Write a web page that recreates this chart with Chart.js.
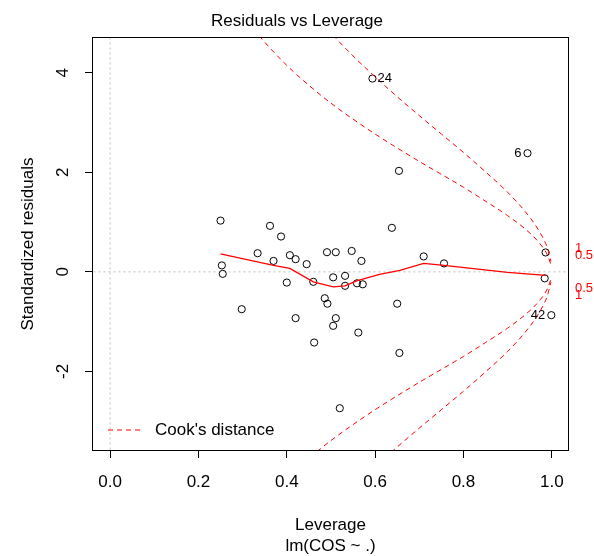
<!DOCTYPE html>
<html>
<head>
<meta charset="utf-8">
<title>Residuals vs Leverage</title>
<script src="https://cdn.jsdelivr.net/npm/chart.js@4/dist/chart.umd.min.js"></script>
<style>
  html, body { margin: 0; padding: 0; background: #fff; }
  canvas { display: block; }
</style>
</head>
<body>
<canvas id="residLeverageChart" width="594" height="556"></canvas>
<script>
// Observations: leverage (hat values) and standardized residuals
const leverage = [
    0.250, 0.253, 0.255, 0.298, 0.334, 0.362, 0.370, 0.387, 0.400, 0.407,
    0.420, 0.420, 0.445, 0.460, 0.462, 0.486, 0.491, 0.492, 0.505, 0.505,
    0.511, 0.511, 0.520, 0.532, 0.532, 0.547, 0.559, 0.562, 0.569, 0.572,
    0.594, 0.638, 0.650, 0.654, 0.655, 0.710, 0.756, 0.945, 0.986, 0.984,
    0.999
];
const stdResiduals = [
    1.03, 0.13, -0.04, -0.75, 0.375, 0.925, 0.22, 0.71, -0.215, 0.335,
    0.255, -0.93, 0.155, -0.20, -1.42, -0.53, 0.395, -0.64, -0.11, -1.085,
    0.395, -0.93, -2.74, -0.08, -0.28, 0.42, -0.23, -1.22, 0.22, -0.25,
    3.885, 0.885, -0.64, 2.03, -1.63, 0.31, 0.17, 2.385, 0.39, -0.13,
    -0.87
];

// Observation numbers printed next to the most extreme points
const idIndex = [30, 37, 40];
const idText = ['24', '6', '42'];

// Smoother through the residuals
const smoothLeverage = [0.250, 0.370, 0.407, 0.460, 0.505, 0.532, 0.558, 0.610, 0.656, 0.710, 0.756, 0.900, 0.986];
const smoothResid = [0.36, 0.13, 0.07, -0.20, -0.30, -0.28, -0.18, -0.05, 0.03, 0.17, 0.13, -0.01, -0.07];

// Cook's distance contours (0.5 and 1)
const cookHalfLeverage = [0.30, 0.34, 0.40, 0.45, 0.50, 0.55, 0.60, 0.65, 0.70, 0.75, 0.80, 0.85, 0.90, 0.94, 0.97, 0.99, 0.998];
const cookHalfUpper = [5.18, 4.72, 4.15, 3.75, 3.39, 3.07, 2.77, 2.49, 2.22, 1.96, 1.70, 1.42, 1.13, 0.86, 0.60, 0.34, 0.15];
const cookHalfLower = [-5.18, -4.72, -4.15, -3.75, -3.39, -3.07, -2.77, -2.49, -2.22, -1.96, -1.70, -1.42, -1.13, -0.86, -0.60, -0.34, -0.15];
const cookOneLeverage = [0.45, 0.50, 0.55, 0.60, 0.65, 0.70, 0.75, 0.80, 0.85, 0.90, 0.94, 0.97, 0.99, 0.998];
const cookOneUpper = [5.30, 4.80, 4.34, 3.92, 3.52, 3.14, 2.77, 2.40, 2.01, 1.60, 1.21, 0.84, 0.48, 0.21];
const cookOneLower = [-5.30, -4.80, -4.34, -3.92, -3.52, -3.14, -2.77, -2.40, -2.01, -1.60, -1.21, -0.84, -0.48, -0.21];

// Axis ticks
const xTicks = [0, 0.2, 0.4, 0.6, 0.8, 1.0];
const yTicks = [-2, 0, 2, 4];
const cookLevelTicks = [-0.48, -0.34, 0.34, 0.48];
const cookLevelLabels = ['1', '0.5', '0.5', '1'];

const FONT = "'Liberation Sans', Arial, sans-serif";
Chart.defaults.font.family = FONT;
Chart.defaults.color = '#000';

const toXY = (xs, ys) => xs.map((x, i) => ({ x: x, y: ys[i] }));

function cookLine(xs, ys) {
    return {
        data: toXY(xs, ys),
        showLine: true,
        borderColor: '#ff0000',
        borderWidth: 1,
        borderDash: [5, 4],
        pointRadius: 0,
        cubicInterpolationMode: 'monotone',
        order: 1
    };
}

// frame around the plot region
const boxPlugin = {
    id: 'plotBox',
    afterDraw(chart) {
        const { ctx, chartArea: a } = chart;
        ctx.save();
        ctx.strokeStyle = '#000';
        ctx.lineWidth = 1;
        ctx.strokeRect(Math.round(a.left) + 0.5, Math.round(a.top) + 0.5,
            Math.round(a.right - a.left) - 1, Math.round(a.bottom - a.top) - 1);
        ctx.restore();
    }
};

// vertical y tick labels
const yLabelPlugin = {
    id: 'yLabels',
    afterDraw(chart) {
        const { ctx } = chart;
        const y = chart.scales.y;
        ctx.save();
        ctx.font = '17px ' + FONT;
        ctx.fillStyle = '#000';
        ctx.textAlign = 'center';
        ctx.textBaseline = 'middle';
        y.ticks.forEach(t => {
            ctx.save();
            ctx.translate(63, y.getPixelForValue(t.value));
            ctx.rotate(-Math.PI / 2);
            ctx.fillText(String(t.value), 0, 0);
            ctx.restore();
        });
        ctx.restore();
    }
};

// observation numbers beside the flagged points:
// right of the point in the left half of their range, left of it otherwise
const idPlugin = {
    id: 'pointIds',
    afterDatasetsDraw(chart) {
        const { ctx } = chart;
        const pts = chart.getDatasetMeta(0).data;
        const idLev = idIndex.map(i => leverage[i]);
        const mid = (Math.min(...idLev) + Math.max(...idLev)) / 2;
        ctx.save();
        ctx.font = '13px ' + FONT;
        ctx.fillStyle = '#000';
        ctx.textBaseline = 'middle';
        idIndex.forEach((idx, k) => {
            const p = pts[idx];
            const right = leverage[idx] <= mid;
            ctx.textAlign = right ? 'left' : 'right';
            ctx.fillText(idText[k], p.x + (right ? 5 : -6), p.y);
        });
        ctx.restore();
    }
};

// legend in the lower left corner of the plot
const cookLegendPlugin = {
    id: 'cookLegend',
    afterDraw(chart) {
        const { ctx, chartArea: a } = chart;
        const yy = a.bottom - 21;
        ctx.save();
        ctx.strokeStyle = '#ff0000';
        ctx.lineWidth = 1;
        ctx.setLineDash([5, 4]);
        ctx.beginPath();
        ctx.moveTo(a.left + 16, yy);
        ctx.lineTo(a.left + 51, yy);
        ctx.stroke();
        ctx.setLineDash([]);
        ctx.font = '17px ' + FONT;
        ctx.fillStyle = '#000';
        ctx.textAlign = 'left';
        ctx.textBaseline = 'middle';
        ctx.fillText("Cook's distance", a.left + 63, yy);
        ctx.restore();
    }
};

new Chart(document.getElementById('residLeverageChart'), {
    type: 'scatter',
    data: {
        datasets: [
            {
                data: toXY(leverage, stdResiduals),
                pointStyle: 'circle',
                pointRadius: 3.6,
                pointBorderWidth: 1,
                pointBorderColor: '#000',
                pointBackgroundColor: 'rgba(0,0,0,0)',
                order: 2
            },
            {
                data: toXY(smoothLeverage, smoothResid),
                showLine: true,
                borderColor: '#ff0000',
                borderWidth: 1.3,
                pointRadius: 0,
                order: 0
            },
            cookLine(cookHalfLeverage, cookHalfUpper),
            cookLine(cookHalfLeverage, cookHalfLower),
            cookLine(cookOneLeverage, cookOneUpper),
            cookLine(cookOneLeverage, cookOneLower),
            {
                data: [{ x: -1, y: 0 }, { x: 2, y: 0 }],
                showLine: true,
                borderColor: '#bebebe',
                borderWidth: 1,
                borderDash: [2, 3],
                pointRadius: 0,
                order: 3
            },
            {
                data: [{ x: 0, y: -10 }, { x: 0, y: 10 }],
                showLine: true,
                borderColor: '#bebebe',
                borderWidth: 1,
                borderDash: [2, 3],
                pointRadius: 0,
                order: 3
            }
        ]
    },
    options: {
        responsive: false,
        animation: false,
        devicePixelRatio: 1,
        layout: { padding: 0 },
        plugins: {
            legend: { display: false },
            tooltip: { enabled: false },
            title: {
                display: true,
                text: 'Residuals vs Leverage',
                color: '#000',
                font: { size: 17, weight: 'normal' },
                padding: { top: 11, bottom: 5.6 }
            }
        },
        scales: {
            x: {
                type: 'linear',
                position: 'bottom',
                min: -0.041,
                max: 1.039,
                afterBuildTicks: s => { s.ticks = xTicks.map(v => ({ value: v })); },
                afterFit: s => { s.height = 105; },
                ticks: {
                    font: { size: 17 },
                    color: '#000',
                    padding: 14,
                    maxRotation: 0,
                    autoSkip: false,
                    callback: v => v.toFixed(1)
                },
                grid: { drawOnChartArea: false, drawTicks: true, tickLength: 7, color: '#000' },
                border: { display: false },
                title: {
                    display: true,
                    text: ['Leverage', 'lm(COS ~ .)'],
                    color: '#000',
                    font: { size: 17, lineHeight: 1.235 },
                    padding: { top: 0, bottom: -1 }
                }
            },
            y: {
                type: 'linear',
                position: 'left',
                min: -3.6,
                max: 4.72,
                afterBuildTicks: s => { s.ticks = yTicks.map(v => ({ value: v })); },
                afterFit: s => { s.width = 92; },
                ticks: { color: 'rgba(0,0,0,0)', font: { size: 17 }, autoSkip: false },
                grid: { drawOnChartArea: false, drawTicks: true, tickLength: 7, color: '#000' },
                border: { display: false },
                title: {
                    display: true,
                    text: 'Standardized residuals',
                    color: '#000',
                    font: { size: 17 },
                    padding: { top: 18, bottom: 0 }
                }
            },
            y2: {
                type: 'linear',
                position: 'right',
                min: -3.6,
                max: 4.72,
                afterBuildTicks: s => { s.ticks = cookLevelTicks.map(v => ({ value: v })); },
                afterFit: s => { s.width = 25; },
                ticks: {
                    color: '#ff0000',
                    font: { size: 13 },
                    padding: 6,
                    autoSkip: false,
                    callback: (v, i) => cookLevelLabels[i]
                },
                grid: { display: false, drawTicks: false },
                border: { display: false }
            }
        }
    },
    plugins: [boxPlugin, yLabelPlugin, idPlugin, cookLegendPlugin]
});
</script>
</body>
</html>
